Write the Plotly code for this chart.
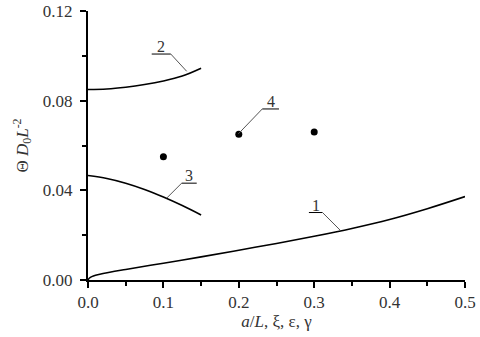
import plotly.graph_objects as go

# curve 1
x1 = [0.0, 0.002, 0.005, 0.01, 0.02, 0.05, 0.1, 0.15, 0.2, 0.25, 0.3, 0.35, 0.4, 0.45, 0.5]
y1 = [0.0, 0.0009, 0.0015, 0.0021, 0.0029, 0.0047, 0.0075, 0.0103, 0.0133, 0.0163, 0.0195, 0.0230, 0.0270, 0.0318, 0.0372]
# curve 2
x2 = [0.0, 0.025, 0.05, 0.075, 0.1, 0.125, 0.15]
y2 = [0.0850, 0.0852, 0.0860, 0.0872, 0.0888, 0.0910, 0.0945]
# curve 3
x3 = [0.0, 0.025, 0.05, 0.075, 0.1, 0.125, 0.15]
y3 = [0.0466, 0.0453, 0.0432, 0.0404, 0.0370, 0.0332, 0.0290]
# points 4
x4 = [0.1, 0.2, 0.3]
y4 = [0.055, 0.065, 0.066]

# labels: text, underline x-start, x-end, y, leader target
lbl_text = ["1", "2", "3", "4"]
lbl_x0 = [0.293, 0.0845, 0.1242, 0.2311]
lbl_x1 = [0.311, 0.1098, 0.1442, 0.2533]
lbl_y = [0.0301, 0.1008, 0.0432, 0.0763]
lbl_side = ["x1", "x1", "x0", "x0"]
lead_x = [0.3342, 0.1309, 0.1043, 0.1994]
lead_y = [0.0223, 0.0931, 0.0365, 0.0652]

SERIF = "Liberation Serif"
TXT = "#333333"

fig = go.Figure()

for xs, ys in [(x1, y1), (x2, y2), (x3, y3)]:
    fig.add_trace(go.Scatter(x=xs, y=ys, mode="lines", line=dict(color="black", width=1.6, shape="spline"),
                             showlegend=False, hoverinfo="skip"))

fig.add_trace(go.Scatter(x=x4, y=y4, mode="markers", marker=dict(color="black", size=7),
                         showlegend=False))

# leader lines + underlines
for t, a, b, y, side, lx, ly in zip(lbl_text, lbl_x0, lbl_x1, lbl_y, lbl_side, lead_x, lead_y):
    fig.add_trace(go.Scatter(x=[a, b], y=[y, y], mode="lines", line=dict(color="black", width=1),
                             showlegend=False, hoverinfo="skip"))
    sx = b if side == "x1" else a
    fig.add_trace(go.Scatter(x=[sx, lx], y=[y, ly], mode="lines", line=dict(color="#555555", width=1),
                             showlegend=False, hoverinfo="skip"))
    fig.add_annotation(x=(a + b) / 2, y=y, text=t, showarrow=False, yanchor="bottom", yshift=-3,
                       font=dict(family=SERIF, size=16, color=TXT))

axis_common = dict(
    showline=True, linecolor="black", linewidth=2, mirror=False,
    ticks="outside", ticklen=6, tickwidth=2, tickcolor="black",
    showgrid=False, zeroline=False, automargin=False,
    tickfont=dict(family=SERIF, size=17, color=TXT),
)

fig.update_xaxes(range=[0, 0.5], dtick=0.1, tickformat=".1f",
                 minor=dict(ticks="outside", ticklen=4, tickwidth=2, tickcolor="black", dtick=0.05),
                 title=dict(text="<i>a</i>/<i>L</i>, ξ, ε, γ", font=dict(family=SERIF, size=17, color=TXT),
                            standoff=4),
                 **axis_common)
fig.update_yaxes(range=[0, 0.12], dtick=0.04, tickformat=".2f", ticklabelstandoff=4,
                 minor=dict(ticks="outside", ticklen=4, tickwidth=2, tickcolor="black", dtick=0.02),
                 title=dict(text="Θ <i>D</i><sub>0</sub><i>L</i><sup>-2</sup>",
                            font=dict(family=SERIF, size=17, color=TXT), standoff=10),
                 **axis_common)

fig.update_layout(
    width=480, height=337,
    margin=dict(l=88, r=15, t=11, b=57),
    plot_bgcolor="white", paper_bgcolor="white",
    showlegend=False,
)

# drop the default 8px body margin so the figure fills the window
fig.write_html("out.html", config={"displayModeBar": False},
               post_script="document.body.style.margin='0px';document.body.style.overflow='hidden';")
